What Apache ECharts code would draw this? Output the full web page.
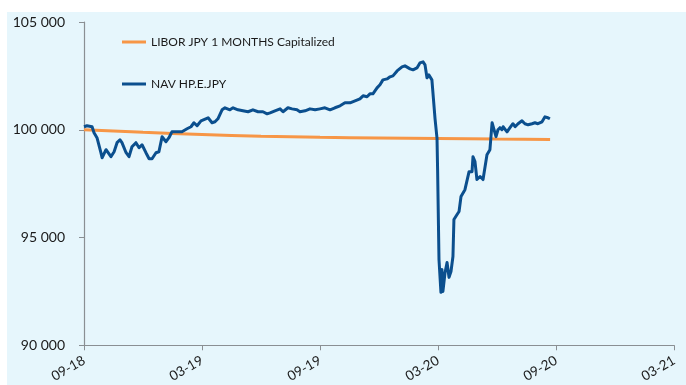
<!DOCTYPE html>
<html>
<head>
<meta charset="utf-8">
<script src="https://cdn.jsdelivr.net/npm/echarts@6/dist/echarts.min.js"></script>
<style>
  html, body { margin: 0; padding: 0; background: #ffffff; }
  #chart { width: 686px; height: 385px; }
</style>
</head>
<body>
<div id="chart"></div>
<script>
// Month offsets counted from September 2018 (0 = 09-18, 6 = 03-19, ...)
const tickLabels = ['09-18', '03-19', '09-19', '03-20', '09-20', '03-21'];

// LIBOR JPY 1M capitalized benchmark
const liborMonths = [0, 3, 6, 9, 12, 15, 18, 21, 23.7];
const liborValues = [100000, 99880, 99780, 99700, 99650, 99620, 99590, 99570, 99550];

// Fund NAV, class HP.E.JPY
const navMonths = [
  0.00, 0.15, 0.41, 0.51, 0.66, 0.86, 0.92, 1.12, 1.22, 1.37, 1.53, 1.68, 1.83, 1.93,
  2.14, 2.29, 2.44, 2.64, 2.80, 2.95, 3.15, 3.31, 3.46, 3.66, 3.81, 3.97, 4.17, 4.32,
  4.47, 4.73, 4.98, 5.08, 5.24, 5.44, 5.59, 5.75, 5.95, 6.05, 6.31, 6.51, 6.66, 6.81,
  7.02, 7.17, 7.42, 7.58, 7.83, 8.08, 8.34, 8.59, 8.85, 9.10, 9.31, 9.46, 9.71, 9.97,
  10.12, 10.37, 10.58, 10.83, 10.98, 11.24, 11.49, 11.75, 12.00, 12.25, 12.51, 12.76,
  13.02, 13.27, 13.53, 13.78, 14.03, 14.19, 14.39, 14.54, 14.69, 14.90, 15.05, 15.20,
  15.41, 15.56, 15.71, 15.92, 16.17, 16.32, 16.58, 16.73, 16.93, 17.08, 17.24, 17.34,
  17.44, 17.54, 17.69, 17.85, 17.95, 17.98, 18.05, 18.15, 18.20, 18.25, 18.36, 18.46,
  18.56, 18.66, 18.76, 18.81, 18.97, 19.07, 19.17, 19.27, 19.37, 19.47, 19.58, 19.73,
  19.78, 19.88, 19.98, 20.14, 20.29, 20.49, 20.64, 20.75, 20.80, 20.95, 21.05, 21.15,
  21.25, 21.31, 21.51, 21.66, 21.81, 21.92, 22.07, 22.27, 22.42, 22.58, 22.78, 22.93,
  23.08, 23.29, 23.44, 23.59, 23.69
];
const navValues = [
  100140, 100185, 100140, 99860, 99630, 98935, 98700, 99075, 99165, 98750, 98980, 99400, 99535, 99400,
  98935, 98750, 99210, 99400, 99165, 99305, 98935, 98655, 98655, 98935, 98980, 99675, 99445, 99630,
  99905, 99905, 99905, 99860, 100045, 100140, 100325, 100185, 100415, 100465, 100555, 100325, 100370, 100510,
  100925, 101020, 100925, 101020, 100925, 100880, 100835, 100925, 100835, 100835, 100740, 100785, 100880, 100970,
  100835, 101020, 100970, 100925, 100835, 100880, 100970, 100925, 100970, 101020, 100925, 101020,
  101110, 101250, 101250, 101340, 101435, 101575, 101530, 101665, 101665, 101945, 102085, 102315,
  102360, 102455, 102500, 102730, 102915, 102965, 102825, 102780, 102870, 103100, 103150, 103010,
  102410, 102545, 102315, 100500, 99600, 98150, 93980, 92455, 93520, 92500, 93380, 93840,
  93150, 93425, 94120, 95835, 96065, 96205, 96900, 96900, 97220, 97220, 98055, 98055,
  98750, 98520, 97690, 97830, 97690, 98840, 99075, 100325, 100370, 99680, 100000, 100095,
  100000, 100140, 99905, 100095, 100280, 100140, 100280, 100415, 100280, 100230, 100280, 100325,
  100280, 100370, 100600, 100555, 100510
];

const yMin = 90000, yMax = 105000, yStep = 5000;

const fmtThousands = v => String(v).replace(/\B(?=(\d{3})+(?!\d))/g, ' ');

const chart = echarts.init(document.getElementById('chart'), null, { renderer: 'canvas' });

const textFont = 'Lato, "Liberation Sans", sans-serif';

chart.setOption({
  animation: false,
  backgroundColor: 'transparent',
  textStyle: { fontFamily: textFont },
  graphic: [{
    type: 'rect',
    z: -10,
    silent: true,
    shape: { x: 7, y: 12, width: 679, height: 373 },
    style: { fill: '#E6F6FC' }
  }],
  grid: { left: 84, right: 12, top: 22, bottom: 39, containLabel: false },
  legend: {
    orient: 'vertical',
    left: 117,
    top: 31,
    padding: 5,
    itemGap: 30,
    itemWidth: 24,
    itemHeight: 3,
    icon: 'rect',
    textStyle: { fontSize: 12, color: '#1a1a1a', fontFamily: textFont, lineHeight: 12 },
    data: ['LIBOR JPY 1 MONTHS Capitalized', 'NAV HP.E.JPY']
  },
  xAxis: {
    type: 'value',
    min: 0,
    max: 30,
    interval: 6,
    axisLine: { show: true, lineStyle: { color: '#8a8f93', width: 1.2 } },
    axisTick: { show: true, length: 5, lineStyle: { color: '#8a8f93' } },
    splitLine: { show: false },
    axisLabel: {
      rotate: 30,
      margin: 14,
      fontSize: 13.5,
      color: '#1a1a1a',
      fontFamily: textFont,
      formatter: v => tickLabels[Math.round(v / 6)] || ''
    }
  },
  yAxis: {
    type: 'value',
    min: yMin,
    max: yMax,
    interval: yStep,
    axisLine: { show: true, lineStyle: { color: '#8a8f93', width: 1.2 } },
    axisTick: { show: true, length: 5, lineStyle: { color: '#8a8f93' } },
    splitLine: { show: false },
    axisLabel: {
      margin: 19,
      fontSize: 14,
      color: '#1a1a1a',
      fontFamily: textFont,
      formatter: v => fmtThousands(v)
    }
  },
  series: [
    {
      name: 'LIBOR JPY 1 MONTHS Capitalized',
      type: 'line',
      symbol: 'none',
      smooth: true,
      z: 2,
      lineStyle: { color: '#F79646', width: 3 },
      itemStyle: { color: '#F79646' },
      data: liborMonths.map((m, i) => [m, liborValues[i]])
    },
    {
      name: 'NAV HP.E.JPY',
      type: 'line',
      symbol: 'none',
      z: 3,
      lineStyle: { color: '#0B4F8E', width: 3, join: 'round' },
      itemStyle: { color: '#0B4F8E' },
      data: navMonths.map((m, i) => [m, navValues[i]])
    }
  ]
});
</script>
</body>
</html>
